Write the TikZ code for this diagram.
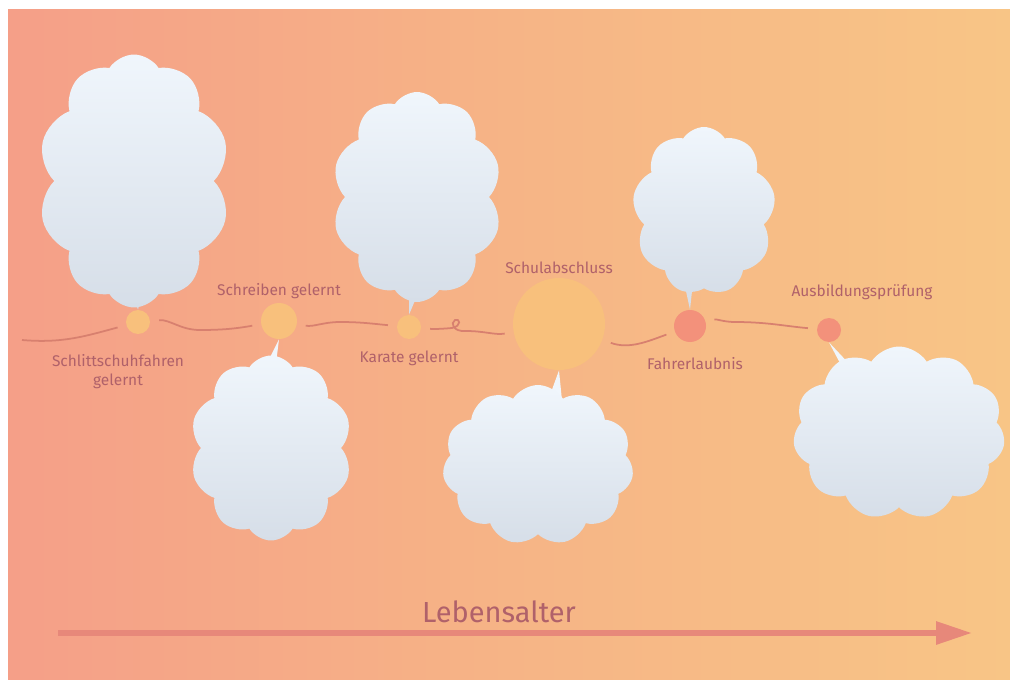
\documentclass[tikz,border=0pt]{standalone}
\usepackage{fontspec}
\setmainfont{Fira Sans}
\usepackage{tikz}
\usetikzlibrary{arrows.meta,positioning,shapes.symbols,calc}

\definecolor{bgleft}{HTML}{F59F88}
\definecolor{bgmid}{HTML}{F6B486}
\definecolor{bgright}{HTML}{F8C586}
\definecolor{cloudtop}{HTML}{F0F6FC}
\definecolor{cloudbot}{HTML}{D6DEE8}
\definecolor{labeltext}{HTML}{B0616A}
\definecolor{wave}{HTML}{D8806F}
\definecolor{ageline}{HTML}{E7887A}
\definecolor{dotlight}{HTML}{F8C07C}
\definecolor{dotsalmon}{HTML}{F3917B}

\pgfdeclarelayer{bg}
\pgfdeclarelayer{tails}
\pgfsetlayers{bg,tails,main}

\begin{document}
\begin{tikzpicture}[
  x=0.02cm,y=-0.02cm,
  puff/.style={cloud,cloud ignores aspect,cloud puff arc=115,inner sep=0pt,top color=cloudtop,bottom color=cloudbot,draw=none},
  dot/.style={circle,inner sep=0pt,fill=dotlight},
  dotred/.style={dot,fill=dotsalmon},
  lbl/.style={inner sep=0pt,text=labeltext,align=center,font=\fontsize{8.8}{10.5}\selectfont},
  wavy/.style={draw=wave,line width=1pt,shorten <=5pt,shorten >=5pt},
  agearrow/.style={draw=ageline,line width=3.4pt,-{Triangle[length=7.2mm,width=4.4mm]}}
]
% milestones
\node[dot,minimum size=0.48cm] (d1) at (138,322) {};
\node[dot,minimum size=0.72cm] (d2) at (279,321) {};
\node[dot,minimum size=0.48cm] (d3) at (409,327) {};
\node[dot,minimum size=1.84cm] (d4) at (559,324) {};
\node[dotred,minimum size=0.64cm] (d5) at (690,326) {};
\node[dotred,minimum size=0.48cm] (d6) at (829,330) {};

% life line
\coordinate (start) at (22,340);
\coordinate (curl) at (452,328);
\draw[wavy,shorten <=0pt] (start) to[out=-5,in=195] (d1);
\draw[wavy] (d1) to[out=5,in=180] (200,330) to[out=0,in=190] (d2);
\draw[wavy] (d2) to[out=-10,in=180] (340,322) to[out=0,in=175] (d3);
\draw[wavy] (d3) to[out=-5,in=185] (curl) .. controls (462,326) and (460,318) .. (455,320)
  .. controls (450,323) and (453,332) .. (466,331) to[out=0,in=190] (d4);
\draw[wavy] (d4) to[out=-20,in=200] (d5);
\draw[wavy] (d5) to[out=15,in=180] (735,322) to[out=0,in=175] (d6);

% labels
\node[lbl,below=0.4cm of d1,xshift=-0.4cm] (l1) {Schlittschuhfahren\\gelernt};
\node[lbl,above=0.08cm of d2] (l2) {Schreiben gelernt};
\node[lbl,below=0.22cm of d3] (l3) {Karate gelernt};
\node[lbl,above=0.08cm of d4] (l4) {Schulabschluss};
\node[lbl,below=0.3cm of d5,xshift=0.1cm] (l5) {Fahrerlaubnis};
\node[lbl,above=0.36cm of d6,xshift=0.66cm] (l6) {Ausbildungsprüfung};

% clouds
\node[puff,cloud puffs=10,minimum width=3.84cm,minimum height=5.06cm] (c1) at (134,181) {};
\node[puff,cloud puffs=10,minimum width=3.24cm,minimum height=3.7cm] (c2) at (271,448) {};
\node[puff,cloud puffs=10,minimum width=3.4cm,minimum height=4.2cm] (c3) at (417,197) {};
\node[puff,cloud puffs=11,minimum width=3.82cm,minimum height=3.2cm] (c4) at (538,465) {};
\node[puff,cloud puffs=9,minimum width=2.86cm,minimum height=3.36cm] (c5) at (704,211) {};
\node[puff,cloud puffs=11,minimum width=4.24cm,minimum height=3.46cm] (c6) at (899,433) {};

% tails
\begin{pgfonlayer}{tails}
\fill[cloudbot] ($(c1.south)+(-2,-16)$) -- (d1.north) -- ($(c1.south)+(8,-16)$) -- cycle;
\fill[cloudtop] ($(c2.north)+(-8,16)$) -- (d2.south) -- ($(c2.north)+(4,16)$) -- cycle;
\fill[cloudbot] ($(c3.south)+(-8,-16)$) -- (d3.north) -- ($(c3.south)+(4,-16)$) -- cycle;
\fill[cloudtop] ($(c4.north)+(10,16)$) -- (d4.south) -- ($(c4.north)+(24,16)$) -- cycle;
\fill[cloudbot] ($(c5.south)+(-22,-16)$) -- (d5.north) -- ($(c5.south)+(-10,-16)$) -- cycle;
\fill[cloudtop] ($(c6.north west)+(40,40)$) -- (d6.south) -- ($(c6.north west)+(60,30)$) -- cycle;
\end{pgfonlayer}

% background
\begin{pgfonlayer}{bg}
\fill[white] (0,0) rectangle (1010,679);
\shade[left color=bgleft,right color=bgright,middle color=bgmid] (8,10) rectangle (1010,679);
\end{pgfonlayer}

% age axis
\coordinate (ageL) at (58,633);
\coordinate (ageR) at (972,633);
\draw[agearrow] (ageL) -- (ageR);
\node[text=labeltext,font=\fontsize{16.5}{19}\selectfont] (age) at (499,612) {Lebensalter};
\end{tikzpicture}
\end{document}
